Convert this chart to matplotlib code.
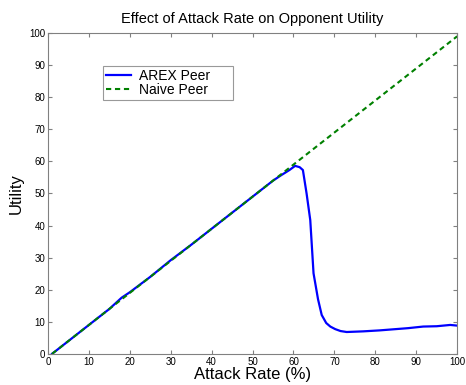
import matplotlib
matplotlib.use("Agg")
import matplotlib.pyplot as plt

# datos
arex_x = [1, 5, 10, 15, 18, 20, 25, 30, 35, 40, 45, 50, 55, 57, 58, 59, 60.4, 61.5, 62.3,
          63.2, 64.1, 64.9, 66, 66.9, 68, 69, 70.2, 71.5, 73, 77, 81, 85, 88, 91.7, 95, 98.3, 100]
arex_y = [0, 4, 9, 14, 17.5, 19.2, 24, 29.2, 34, 39, 44, 49, 54, 55.7, 56.5, 57.3, 58.6, 58.2, 57.3,
          50, 41.7, 25.1, 17, 12.1, 9.6, 8.5, 7.7, 7.1, 6.8, 7.0, 7.3, 7.7, 8.0, 8.5, 8.6, 9.0, 8.8]

naive_x = [1, 20, 40, 60, 80, 100]
naive_y = [0, 19, 39, 59, 79, 99]

ticks = [0, 10, 20, 30, 40, 50, 60, 70, 80, 90, 100]

plt.rcParams['font.family'] = ['Liberation Sans', 'DejaVu Sans']

fig = plt.figure(figsize=(4.66, 3.85), dpi=100)
ax = fig.add_axes([0.103, 0.081, 0.878, 0.833])

ax.plot(arex_x, arex_y, color='#0000ff', linewidth=1.6, label='AREX Peer')
ax.plot(naive_x, naive_y, color='#008000', linestyle='--', dashes=(2.5, 1.8), linewidth=1.5, label='Naive Peer')

ax.set_xlim(0, 100)
ax.set_ylim(0, 100)
ax.set_xticks(ticks)
ax.set_yticks(ticks)
ax.tick_params(direction='in', top=True, right=True, labelsize=7, length=3, color='#808080', pad=2)
for s in ax.spines.values():
    s.set_color('#808080')
    s.set_linewidth(0.8)

ax.set_title('Effect of Attack Rate on Opponent Utility', fontsize=10.5, pad=7)
ax.set_xlabel('Attack Rate (%)', fontsize=12, labelpad=0)
ax.set_ylabel('Utility', fontsize=12, labelpad=4)

# leyenda estirada al ancho del recuadro original
leg = ax.legend(loc='upper left', bbox_to_anchor=(0.134, 0.5, 0.318, 0.397), mode='expand',
                borderaxespad=0, fontsize=10, frameon=True, fancybox=False, edgecolor='#808080',
                handlelength=1.8, handletextpad=0.6, borderpad=0.2, labelspacing=0.0)
leg.get_frame().set_linewidth(0.8)

fig.savefig('out.png', dpi=100)
